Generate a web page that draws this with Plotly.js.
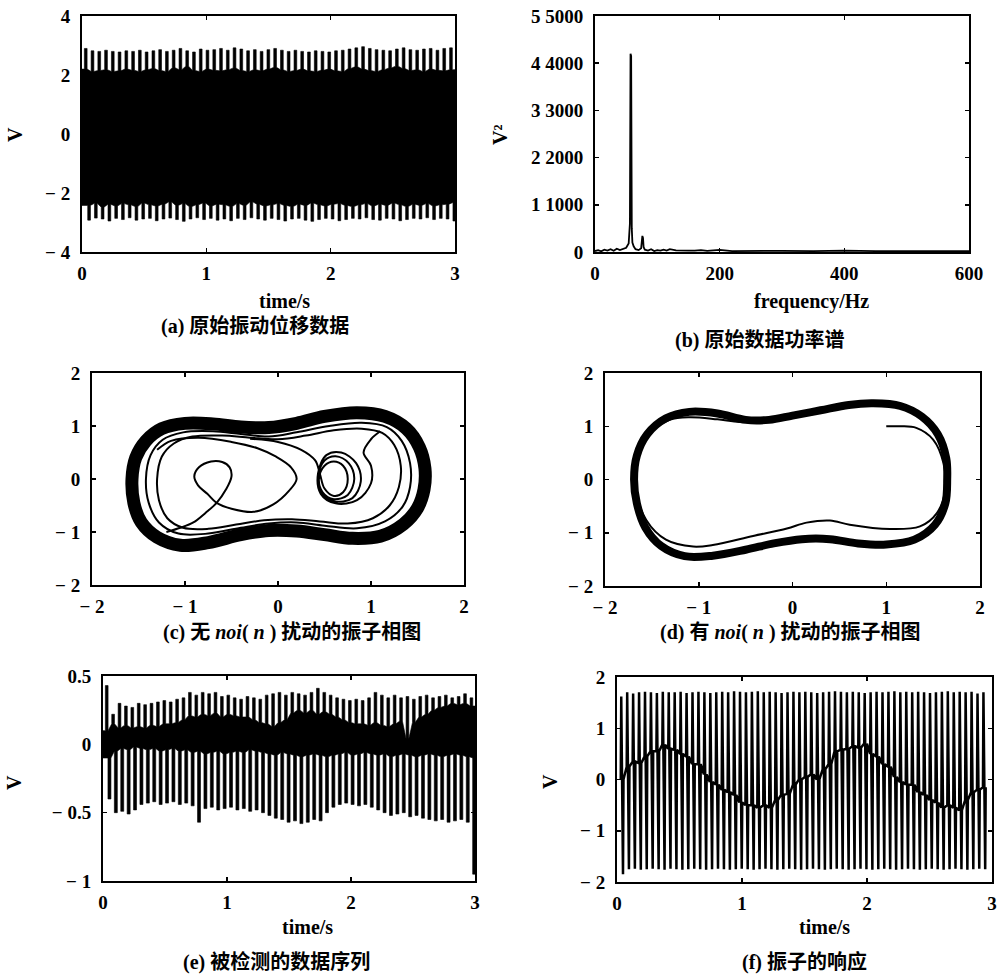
<!DOCTYPE html>
<html><head><meta charset="utf-8">
<script src="https://cdn.plot.ly/plotly-3.0.1.min.js"></script>
<style>html,body{margin:0;padding:0;background:#fff}#c{width:1003px;height:975px}</style>
</head><body><div id="c"></div>
<script>
// ---------- (a) raw vibration displacement: spike tips and band edges (V) ----------
const aStart = 0.03, aStep = 0.0544;           // spike sampling (s)
const aTop = [2.90,2.82,2.80,2.84,2.80,2.78,2.82,2.80,2.84,2.78,
              2.82,2.86,2.80,2.84,2.90,2.82,2.78,2.88,2.84,2.86,
              2.90,2.84,2.92,2.88,2.82,2.86,2.80,2.86,2.90,2.84,
              2.80,2.84,2.80,2.78,2.82,2.80,2.78,2.82,2.84,2.88,
              2.92,2.96,2.90,2.86,2.84,2.82,2.88,2.92,2.86,2.84,
              2.88,2.90,2.84,2.90,2.92];
const aGapTop = [2.20,2.12,2.15,2.18,2.12,2.14,2.20,2.16,2.12,2.18,
                 2.22,2.15,2.12,2.25,2.18,2.30,2.15,2.12,2.20,2.16,
                 2.14,2.18,2.24,2.15,2.12,2.18,2.14,2.20,2.26,2.18,
                 2.12,2.15,2.20,2.14,2.12,2.16,2.20,2.14,2.12,2.22,
                 2.28,2.20,2.15,2.12,2.18,2.24,2.30,2.22,2.15,2.18,
                 2.12,2.20,2.16,2.14,2.18];
const aBot = [-2.92,-2.85,-2.88,-2.95,-2.86,-2.90,-2.84,-2.92,-2.88,-2.86,
              -2.94,-2.88,-2.85,-2.90,-2.96,-2.88,-2.84,-2.90,-2.86,-2.92,
              -2.88,-2.94,-2.86,-2.90,-2.84,-2.88,-2.92,-2.86,-2.90,-2.95,
              -2.88,-2.86,-2.92,-2.96,-2.90,-2.86,-2.88,-2.94,-2.90,-2.86,
              -2.88,-2.84,-2.90,-2.92,-2.86,-2.88,-2.94,-2.90,-2.86,-2.88,
              -2.84,-2.90,-2.86,-2.88,-2.95];
const aGapBot = [-2.42,-2.35,-2.48,-2.38,-2.44,-2.36,-2.40,-2.46,-2.34,-2.40,
                 -2.44,-2.38,-2.30,-2.42,-2.36,-2.46,-2.40,-2.34,-2.44,-2.38,
                 -2.40,-2.46,-2.36,-2.42,-2.30,-2.38,-2.44,-2.40,-2.36,-2.42,
                 -2.46,-2.38,-2.42,-2.34,-2.40,-2.44,-2.38,-2.36,-2.42,-2.46,
                 -2.40,-2.36,-2.44,-2.38,-2.42,-2.34,-2.40,-2.46,-2.38,-2.42,
                 -2.36,-2.44,-2.40,-2.38,-2.32];

// ---------- (b) power spectrum ----------
const bFreq = [0,5,10,15,20,25,30,35,40,45,50,54,56,57,58,59,60,62,65,70,74,76,77,78,80,85,90,95,100,105,110,115,120,130,140,150,160,170,180,190,200,220,240,260,280,300,350,400,450,500,550,600];
const bPow  = [20,40,15,50,30,60,25,70,40,60,90,180,600,4200,4150,500,200,120,60,40,80,340,300,100,50,30,60,20,40,30,50,30,60,35,40,30,30,40,25,30,45,20,25,20,20,25,20,30,20,20,25,20];

// ---------- (c) phase portrait without noi(n) ----------
const cBandX = [-1.57,-1.53,-1.42,-1.25,-1.0,-0.7,-0.4,-0.1,0.2,0.5,0.85,1.15,1.38,1.52,1.58,1.57,1.5,1.35,1.1,0.8,0.5,0.2,-0.1,-0.4,-0.75,-1.05,-1.3,-1.47,-1.55,-1.57];
const cBandY = [0,0.4,0.72,0.95,1.05,1.04,0.98,0.97,1.05,1.18,1.25,1.18,0.95,0.6,0.2,-0.2,-0.55,-0.85,-1.08,-1.12,-1.05,-0.98,-0.97,-1.05,-1.2,-1.25,-1.1,-0.82,-0.45,0];
const cIn1X = [-1.42,-1.37,-1.24,-1.02,-0.7,-0.4,-0.1,0.2,0.55,0.9,1.17,1.33,1.42,1.42,1.34,1.15,0.85,0.5,0.2,-0.1,-0.4,-0.75,-1.07,-1.28,-1.39,-1.42];
const cIn1Y = [0,0.45,0.74,0.88,0.9,0.85,0.8,0.88,1.0,1.06,0.98,0.72,0.3,-0.15,-0.52,-0.8,-0.93,-0.88,-0.82,-0.84,-0.92,-1.03,-1.03,-0.82,-0.45,0];
const cIn2X = [-1.3,-1.25,-1.12,-0.92,-0.6,-0.3,0.0,0.3,0.6,0.9,1.12,1.25,1.32,1.3,1.2,1.02,0.75,0.45,0.15,-0.15,-0.45,-0.75,-1.02,-1.19,-1.28,-1.3];
const cIn2Y = [0,0.42,0.67,0.8,0.82,0.78,0.75,0.82,0.92,0.95,0.87,0.64,0.25,-0.15,-0.5,-0.74,-0.84,-0.8,-0.76,-0.78,-0.86,-0.94,-0.92,-0.74,-0.4,0];
const cLoopX = [-1.2,-1.05,-0.91,-0.78,-0.66,-0.56,-0.5,-0.52,-0.6,-0.72,-0.85,-0.9,-0.86,-0.76,-0.66,-0.5,-0.26,-0.05,0.12,0.2,0.14,-0.02,-0.22,-0.5,-0.85,-1.15,-1.3];
const cLoopY = [-1.0,-0.92,-0.82,-0.64,-0.45,-0.2,0.05,0.22,0.32,0.33,0.22,0.05,-0.12,-0.28,-0.45,-0.56,-0.62,-0.48,-0.22,0.0,0.22,0.42,0.58,0.7,0.78,0.72,0.55];
const cSpirX = [-0.3,0.0,0.25,0.4,0.45,0.5,0.6,0.7,0.75,0.7,0.6,0.5,0.44,0.48,0.6,0.75,0.82,0.76,0.62,0.5,0.43,0.47,0.6,0.8,0.89,0.84,0.68,0.52,0.43,0.46,0.62,0.85,1.0,1.0,0.92,1.0,1.1];
const cSpirY = [0.76,0.7,0.55,0.35,0.1,-0.18,-0.32,-0.25,0.0,0.25,0.33,0.25,0.0,-0.25,-0.38,-0.3,0.0,0.3,0.43,0.35,0.05,-0.25,-0.42,-0.36,-0.05,0.3,0.5,0.45,0.1,-0.28,-0.46,-0.4,-0.08,0.25,0.5,0.75,0.9];

// ---------- (d) phase portrait with noi(n) ----------
const dBandX = [-1.69,-1.66,-1.55,-1.35,-1.1,-0.8,-0.5,-0.25,0.0,0.3,0.6,0.86,1.15,1.38,1.55,1.64,1.65,1.63,1.52,1.3,1.0,0.7,0.4,0.1,-0.2,-0.5,-0.85,-1.15,-1.4,-1.57,-1.66,-1.69];
const dBandY = [0,0.45,0.85,1.15,1.27,1.24,1.12,1.12,1.2,1.3,1.4,1.43,1.38,1.18,0.85,0.4,0,-0.45,-0.85,-1.13,-1.22,-1.2,-1.12,-1.12,-1.2,-1.32,-1.43,-1.44,-1.25,-0.9,-0.45,0];
const dTrX = [1.0,1.15,1.32,1.5,1.61,1.63,1.54,1.36,1.04,0.61,0.4,0.15,-0.06,-0.42,-0.85,-1.06,-1.35,-1.56,-1.67,-1.65,-1.52,-1.31,-1.1,-0.8,-0.56,-0.42];
const dTrY = [1.0,1.0,0.97,0.75,0.31,-0.19,-0.63,-0.88,-0.93,-0.85,-0.77,-0.81,-0.92,-1.06,-1.23,-1.26,-1.13,-0.76,-0.19,0.43,0.87,1.12,1.17,1.13,1.08,1.12];

// ---------- (e) detected data sequence ----------
const eStart = 0.03, eStep = 0.0516;
const eTop = [0.43,0.22,0.30,0.28,0.27,0.30,0.29,0.30,0.31,0.32,
              0.31,0.33,0.34,0.38,0.36,0.38,0.37,0.38,0.35,0.36,
              0.34,0.33,0.35,0.34,0.33,0.36,0.37,0.38,0.36,0.38,
              0.37,0.36,0.38,0.41,0.38,0.36,0.34,0.33,0.32,0.33,
              0.32,0.34,0.38,0.36,0.34,0.36,0.34,0.35,0.33,0.35,
              0.36,0.34,0.35,0.36,0.34,0.35,0.37,0.34];
const eCoreTop = [0.10,0.15,0.12,0.14,0.12,0.13,0.12,0.14,0.13,0.15,
                  0.15,0.16,0.18,0.21,0.20,0.22,0.21,0.23,0.20,0.22,
                  0.21,0.20,0.20,0.18,0.16,0.15,0.13,0.16,0.18,0.23,
                  0.25,0.23,0.25,0.22,0.24,0.22,0.20,0.18,0.16,0.15,
                  0.15,0.14,0.16,0.14,0.13,0.15,0.17,0.04,0.16,0.20,
                  0.22,0.25,0.27,0.28,0.30,0.29,0.30,0.28];
const eCoreBot = [-0.10,-0.05,-0.03,-0.04,-0.02,-0.03,-0.04,-0.03,-0.05,-0.04,
                  -0.03,-0.05,-0.04,-0.06,-0.05,-0.07,-0.06,-0.05,-0.07,-0.06,
                  -0.05,-0.06,-0.04,-0.05,-0.06,-0.07,-0.08,-0.06,-0.07,-0.08,
                  -0.09,-0.08,-0.07,-0.08,-0.09,-0.08,-0.07,-0.06,-0.08,-0.07,
                  -0.06,-0.07,-0.08,-0.07,-0.09,-0.08,-0.07,-0.08,-0.09,-0.08,
                  -0.07,-0.08,-0.09,-0.08,-0.07,-0.08,-0.09,-0.10];
const eBot = [-0.40,-0.50,-0.49,-0.51,-0.48,-0.44,-0.43,-0.42,-0.44,-0.43,
              -0.42,-0.44,-0.43,-0.45,-0.57,-0.47,-0.46,-0.48,-0.47,-0.46,
              -0.48,-0.47,-0.49,-0.48,-0.50,-0.52,-0.54,-0.55,-0.57,-0.56,
              -0.58,-0.57,-0.55,-0.56,-0.50,-0.46,-0.44,-0.43,-0.44,-0.45,
              -0.44,-0.46,-0.48,-0.50,-0.52,-0.51,-0.50,-0.53,-0.52,-0.54,
              -0.55,-0.56,-0.55,-0.57,-0.56,-0.55,-0.57,-0.95];

// ---------- (f) oscillator response ----------
const fStart = 0.03, fStep = 0.0475;
const fMid = [0.0,0.25,0.35,0.32,0.45,0.55,0.55,0.68,0.6,0.58,
              0.5,0.45,0.3,0.3,0.1,-0.05,-0.1,-0.2,-0.25,-0.3,
              -0.45,-0.5,-0.5,-0.55,-0.5,-0.55,-0.4,-0.3,-0.28,-0.1,
              0.0,0.05,0.1,0.0,0.2,0.3,0.55,0.58,0.6,0.65,
              0.62,0.7,0.5,0.45,0.3,0.25,0.05,-0.05,-0.1,-0.1,
              -0.25,-0.3,-0.4,-0.45,-0.55,-0.5,-0.55,-0.6,-0.4,-0.25,
              -0.2,-0.15];
const fTop = [1.62,1.70,1.68,1.70,1.71,1.70,1.69,1.71,1.70,1.70,
              1.71,1.69,1.70,1.71,1.70,1.69,1.70,1.71,1.70,1.72,
              1.71,1.70,1.71,1.72,1.70,1.71,1.70,1.69,1.70,1.71,
              1.70,1.71,1.70,1.69,1.70,1.71,1.72,1.71,1.70,1.71,
              1.70,1.69,1.70,1.71,1.70,1.71,1.72,1.70,1.71,1.70,
              1.71,1.70,1.69,1.70,1.71,1.72,1.70,1.71,1.70,1.71,
              1.68,1.70];
const fBot = [-1.85,-1.75,-1.74,-1.76,-1.75,-1.74,-1.75,-1.76,-1.74,-1.75,
              -1.76,-1.75,-1.74,-1.75,-1.76,-1.75,-1.74,-1.75,-1.76,-1.75,
              -1.74,-1.75,-1.76,-1.75,-1.74,-1.75,-1.76,-1.75,-1.74,-1.75,
              -1.76,-1.75,-1.74,-1.75,-1.76,-1.75,-1.74,-1.75,-1.76,-1.75,
              -1.74,-1.75,-1.76,-1.75,-1.74,-1.75,-1.76,-1.75,-1.74,-1.75,
              -1.76,-1.75,-1.74,-1.75,-1.76,-1.75,-1.74,-1.75,-1.76,-1.75,
              -1.74,-1.75];

// ---------- tick labels ----------
const tickT = [0,1,2,3];
const tickTtxt = ['0','1','2','3'];
const aYv = [-4,-2,0,2,4], aYt = ['− 4','− 2','0','2','4'];
const bXv = [0,200,400,600], bXt = ['0','200','400','600'];
const bYv = [0,1000,2000,3000,4000,5000], bYt = ['0','1 1000','2 2000','3 3000','4 4000','5 5000'];
const pv = [-2,-1,0,1,2], pt = ['− 2','− 1','0','1','2'];
const eYv = [-1,-0.5,0,0.5], eYt = ['− 1','− 0.5','0','0.5'];

// ---------- build ----------
function grid(start, step, n){ const t=[]; for(let i=0;i<n;i++) t.push(start+i*step); return t; }
function comb(t, hi, baseHi, lo, baseLo, wHi, wLo, offLo, x0, x1){
  const n=t.length, xs=[x0], ys=[baseHi[0]];
  for(let i=0;i<n;i++){ xs.push(t[i]-wHi,t[i]-wHi,t[i]+wHi,t[i]+wHi); ys.push(baseHi[i],hi[i],hi[i],baseHi[i]); }
  xs.push(x1,x1); ys.push(baseHi[n-1],baseLo[n-1]);
  for(let i=n-1;i>=0;i--){ const c=t[i]+offLo; xs.push(c+wLo,c+wLo,c-wLo,c-wLo); ys.push(baseLo[i],lo[i],lo[i],baseLo[i]); }
  xs.push(x0,x0); ys.push(baseLo[0],baseHi[0]);
  return {x:xs,y:ys};
}
const K='#000';
const traces=[];
const aT=grid(aStart,aStep,aTop.length);
const ca=comb(aT,aTop,aGapTop,aBot,aGapBot,0.011,0.011,0.027,0,3);
traces.push({x:ca.x,y:ca.y,xaxis:'x',yaxis:'y',mode:'lines',fill:'toself',fillcolor:K,line:{color:K,width:0.6},hoverinfo:'skip'});
traces.push({x:bFreq,y:bPow,xaxis:'x2',yaxis:'y2',mode:'lines',line:{color:K,width:1.8}});
const thick=(x,y,w,ax,ay)=>({x:x,y:y,xaxis:ax,yaxis:ay,mode:'lines',line:{color:K,width:w,shape:'spline',smoothing:1}});
traces.push(thick(cBandX,cBandY,13,'x3','y3'));
traces.push(thick(cIn1X,cIn1Y,2,'x3','y3'));
traces.push(thick(cIn2X,cIn2Y,2,'x3','y3'));
traces.push(thick(cLoopX,cLoopY,2,'x3','y3'));
traces.push(thick(cSpirX,cSpirY,2,'x3','y3'));
traces.push(thick(dBandX,dBandY,8,'x4','y4'));
traces.push(thick(dTrX,dTrY,2,'x4','y4'));
const eT=grid(eStart,eStep,eTop.length);
const ce=comb(eT,eTop,eCoreTop,eBot,eCoreBot,0.011,0.012,0.022,0,3);
traces.push({x:ce.x,y:ce.y,xaxis:'x5',yaxis:'y5',mode:'lines',fill:'toself',fillcolor:K,line:{color:K,width:0.6},hoverinfo:'skip'});
const fT=grid(fStart,fStep,fMid.length);
const fx=[],fy=[];
for(let i=0;i<fT.length;i++){ fx.push(fT[i],fT[i]+0.004,fT[i]+0.018,fT[i]+0.022); fy.push(fMid[i],fTop[i],fBot[i],fMid[i]); }
traces.push({x:fx,y:fy,xaxis:'x6',yaxis:'y6',mode:'lines',line:{color:K,width:2.5}});

const W=1003,H=975;
const tickFont={family:'Liberation Serif, serif',size:19,color:K,weight:'bold'};
function ax(px0,px1,range,vals,txt,anchor,isY){
  const d = isY ? [1-px1/H,1-px0/H] : [px0/W,px1/W];
  return {domain:d,range:range,anchor:anchor,tickmode:'array',tickvals:vals,ticktext:txt,ticks:'inside',ticklen:4,tickwidth:1.5,tickcolor:K,
          showline:true,linecolor:K,linewidth:2,mirror:'ticks',showgrid:false,zeroline:false,tickfont:tickFont,ticklabelstandoff:isY?6:3,fixedrange:true};
}
const layout={width:W,height:H,margin:{l:0,r:0,t:0,b:0},paper_bgcolor:'#fff',plot_bgcolor:'#fff',showlegend:false,
  xaxis: ax(82,455,[0,3],tickT,tickTtxt,'y'),   yaxis: ax(16,252,[-4,4],aYv,aYt,'x',true),
  xaxis2:ax(595,969,[0,600],bXv,bXt,'y2'),      yaxis2:ax(16,252,[0,5000],bYv,bYt,'x2',true),
  xaxis3:ax(92,464,[-2,2],pv,pt,'y3'),          yaxis3:ax(373,585,[-2,2],pv,pt,'x3',true),
  xaxis4:ax(605,980,[-2,2],pv,pt,'y4'),         yaxis4:ax(373,586,[-2,2],pv,pt,'x4',true),
  xaxis5:ax(103,475,[0,3],tickT,tickTtxt,'y5'), yaxis5:ax(676,881,[-1,0.5],eYv,eYt,'x5',true),
  xaxis6:ax(617,992,[0,3],tickT,tickTtxt,'y6'), yaxis6:ax(677,882,[-2,2],pv,pt,'x6',true),
  annotations:[]
};
const serif={family:'Liberation Serif, serif',size:20,color:K,weight:'bold'};
const cjk={family:'Liberation Serif, Noto Sans CJK SC, serif',size:20,color:K,weight:'bold'};
function note(text,px,py,font,angle){ layout.annotations.push({text:text,x:px/W,y:1-py/H,xref:'paper',yref:'paper',xanchor:'center',yanchor:'middle',showarrow:false,font:font,textangle:angle||0}); }
note('time/s',284,301,serif); note('frequency/Hz',811,301,serif);
note('time/s',307,927,serif); note('time/s',824,927,serif);
note('V',15,135,serif,-90); note('V²',500,135,serif,-90);
note('V',14,783,serif,-90); note('V',550,782,serif,-90);
note('(a) 原始振动位移数据',255,326,cjk);
note('(b) 原始数据功率谱',759,340,cjk);
note('(c) 无 <i>noi</i>( <i>n</i> ) 扰动的振子相图',292,632,cjk);
note('(d) 有 <i>noi</i>( <i>n</i> ) 扰动的振子相图',790,632,cjk);
note('(e) 被检测的数据序列',276,962,cjk);
note('(f) 振子的响应',804,962,cjk);
Plotly.newPlot('c',traces,layout,{staticPlot:true,displayModeBar:false});
</script></body></html>
